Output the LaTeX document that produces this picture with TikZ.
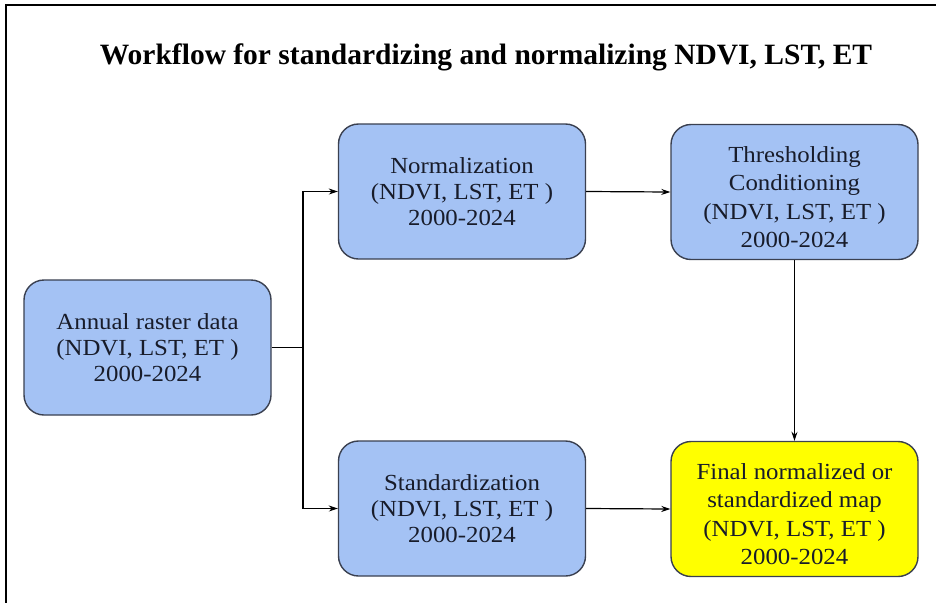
\documentclass[tikz,border=0pt]{standalone}
\usepackage{fontspec}
\setmainfont{Liberation Serif}
\newfontfamily\boxfont{Liberation Serif}[FakeStretch=1.08]
\usetikzlibrary{arrows.meta}

\definecolor{stepblue}{RGB}{164,194,244}
\definecolor{stepyellow}{RGB}{255,255,0}
\definecolor{edgegray}{RGB}{58,64,80}
\definecolor{inkdark}{RGB}{24,28,42}

\tikzset{
  stepbox/.style={draw=edgegray, line width=1.4pt, fill=stepblue,
    rounded corners=20pt, minimum width=247pt, minimum height=135pt,
    align=center, text=inkdark, inner sep=0pt,
    font=\boxfont\fontsize{23}{26}\selectfont},
  tallbox/.style={stepbox, font=\boxfont\fontsize{23}{28.5}\selectfont},
  finalbox/.style={tallbox, fill=stepyellow},
  flow/.style={draw=black, line width=1.2pt,
    -{Stealth[length=9pt,width=6pt]}},
  plainline/.style={draw=black, line width=1.2pt},
}
% lowers a four-line label slightly inside its box
\newcommand{\lowerfirst}{\rule{0pt}{26pt}}

\begin{document}
\begin{tikzpicture}[x=1pt,y=-1pt]
  % page frame
  \useasboundingbox (0,0) rectangle (936,603);
  \fill[white] (0,0) rectangle (936,603);
  \draw[line width=2.2pt, black] (936,5) -- (6,5) -- (6,603);

  % heading
  \node[font=\bfseries\fontsize{29.5}{35}\selectfont, text=black] (title)
    at (486,57) {Workflow for standardizing and normalizing NDVI, LST, ET};

  % process boxes
  \node[stepbox] (ann)  at (147.5,347.5) {Annual raster data\\(NDVI, LST, ET )\\2000-2024};
  \node[stepbox] (norm) at (462,191.5)   {Normalization\\(NDVI, LST, ET )\\2000-2024};
  \node[stepbox] (std)  at (462,508.5)   {Standardization\\(NDVI, LST, ET )\\2000-2024};
  \node[tallbox] (thr) at (794.5,192)
    {\lowerfirst Thresholding\\Conditioning\\(NDVI, LST, ET )\\2000-2024};
  \node[finalbox] (fin) at (794.5,509)
    {\lowerfirst Final normalized or\\standardized map\\(NDVI, LST, ET )\\2000-2024};

  % connectors
  \coordinate (split) at (303,347.5);
  \draw[plainline] (ann.east) -- (split);
  \draw[flow] (split) |- (norm.west);
  \draw[flow] (split) |- (std.west);
  \draw[flow] (norm.east) -- (thr.west);
  \draw[flow] (thr.south) -- (fin.north);
  \draw[flow] (std.east) -- (fin.west);
\end{tikzpicture}
\end{document}
